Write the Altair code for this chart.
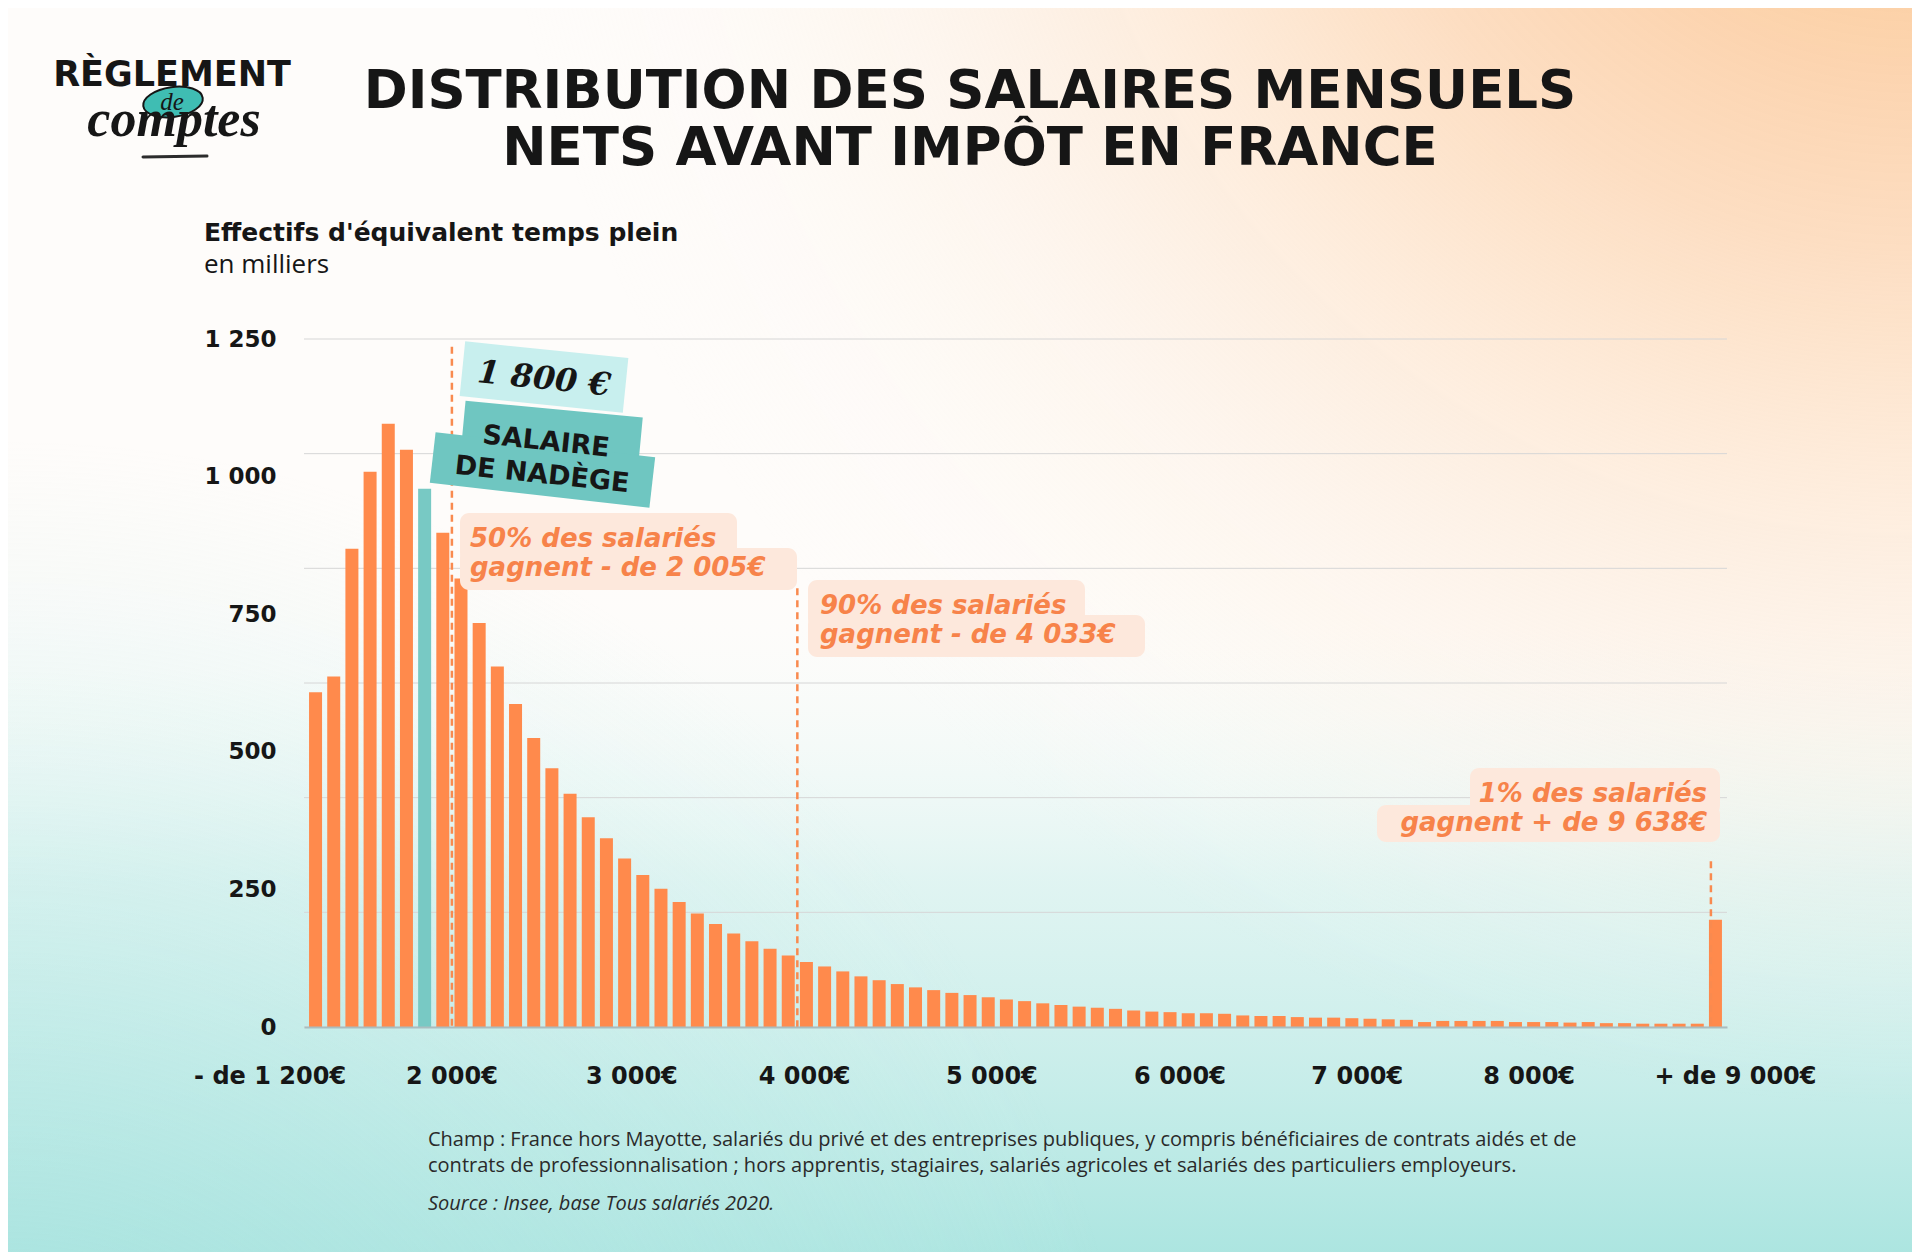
import altair as alt
import pandas as pd

# ---------------- data ----------------
bin_start = list(range(1200, 9000, 100))  # 78 tranches de 100 €, la dernière = "+ de 9 000€"
effectifs = [608, 637, 869, 1009, 1096, 1049, 978, 898, 815, 734,
             655, 587, 525, 470, 424, 381, 343, 306, 276, 251,
             227, 206, 187, 170, 156, 142, 130, 118, 110, 101,
             92, 85, 78, 72, 67, 62, 58, 54, 50, 47,
             43, 40, 37, 35, 33, 30, 28, 27, 25, 25,
             24, 21, 20, 20, 18, 17, 17, 16, 15, 14,
             13, 9, 11, 11, 11, 11, 9, 9, 9, 8,
             9, 7, 7, 6, 6, 6, 6, 195]
NADEGE_BIN = 1800

x_tick_labels = ["- de 1 200€", "2 000€", "3 000€", "4 000€", "5 000€",
                 "6 000€", "7 000€", "8 000€", "+  de 9 000€"]
x_tick_pos = [1000, 2000, 2990, 3940, 4970, 6005, 6980, 7925, 9060]

y_tick_values = [0, 250, 500, 750, 1000, 1250]

marker_x = [2000, 3900, 8925]       # lignes pointillées (médiane, D9, C99)
marker_top = [1236, 797, 301]

TITLE_1 = "DISTRIBUTION DES SALAIRES MENSUELS"
TITLE_2 = "NETS AVANT IMPÔT EN FRANCE"
Y_TITLE = "Effectifs d'équivalent temps plein"
Y_SUB = "en milliers"
NOTE_1 = ("Champ : France hors Mayotte, salariés du privé et des entreprises publiques, "
          "y compris bénéficiaires de contrats aidés et de")
NOTE_2 = ("contrats de professionnalisation ; hors apprentis, stagiaires, salariés agricoles "
          "et salariés des particuliers employeurs.")
SOURCE = "Source : Insee, base Tous salariés 2020."

# ---------------- layout ----------------
ORANGE = "#ff8a4c"
TEAL = "#78c9c4"
TXT_OR = "#f7834a"
DARK = "#161616"
BOX = "#fde8dc"
BOLD_FONT = "DejaVu Sans"

PLOT_L, PLOT_T = 304, 339
W, H = 1423, 688
CANVAS_W, CANVAS_H = 1904, 1244


def vx(X):
    return X - PLOT_L


def vy(Y):
    return Y - PLOT_T


one = pd.DataFrame({"k": [0]})

bars_df = pd.DataFrame({
    "start": bin_start,
    "effectifs": effectifs,
})
bars_df["centre"] = bars_df["start"] + 50
bars_df["nadege"] = bars_df["start"] == NADEGE_BIN

# bars flush with the ends of the gridlines, as in the original
xscale = alt.Scale(domain=[1214, 8986], nice=False, zero=False)
yscale = alt.Scale(domain=[0, 1250], nice=False, zero=True)


def bg(color):
    return alt.Chart(one).mark_rect(color=color).encode(
        x=alt.value(vx(8)), x2=alt.value(vx(8 + CANVAS_W)),
        y=alt.value(vy(8)), y2=alt.value(vy(8 + CANVAS_H)))


def box(x1, x2, y1, y2, color=BOX, r=9):
    return alt.Chart(one).mark_rect(color=color, cornerRadius=r).encode(
        x=alt.value(vx(x1)), x2=alt.value(vx(x2)),
        y=alt.value(vy(y1)), y2=alt.value(vy(y2)))


def rbox(cx, cy, w, h, angle, color):
    r = h / w
    path = f"M-1,{-r}L1,{-r}L1,{r}L-1,{r}Z"
    return alt.Chart(one).mark_point(shape=path, size=w * w, angle=angle,
                                     filled=True, color=color, opacity=1).encode(
        x=alt.value(vx(cx)), y=alt.value(vy(cy)))


def txt(text, X, Y, size, font, weight="normal", style="normal", align="left",
        baseline="alphabetic", color=DARK, angle=0):
    return alt.Chart(one).mark_text(text=text, font=font, fontSize=size, fontWeight=weight,
                                    fontStyle=style, align=align, baseline=baseline,
                                    color=color, angle=angle).encode(
        x=alt.value(vx(X)), y=alt.value(vy(Y)))


layers = []

# background gradients
layers.append(bg("#fefcfa"))
layers.append(bg({"gradient": "linear", "x1": 0, "y1": 1, "x2": 0, "y2": 0,
                  "stops": [{"offset": 0, "color": "rgba(168,228,223,0.95)"},
                            {"offset": 0.3, "color": "rgba(200,238,235,0.55)"},
                            {"offset": 0.55, "color": "rgba(255,255,255,0)"}]}))
layers.append(bg({"gradient": "radial", "x1": 0, "y1": 1, "r1": 0, "x2": 0, "y2": 1, "r2": 0.6,
                  "stops": [{"offset": 0, "color": "rgba(160,224,220,0.8)"},
                            {"offset": 1, "color": "rgba(200,238,235,0)"}]}))
layers.append(bg({"gradient": "radial", "x1": 1, "y1": 0, "r1": 0, "x2": 1, "y2": 0, "r2": 0.75,
                  "stops": [{"offset": 0, "color": "rgba(251,188,128,1)"},
                            {"offset": 0.4, "color": "rgba(252,212,175,0.75)"},
                            {"offset": 1, "color": "rgba(255,250,245,0)"}]}))

# gridlines (7 lines, 1250/6 apart as in the original)
layers.append(
    alt.Chart(alt.sequence(0, 7, as_="k")).transform_calculate(v="datum.k * 1250 / 6")
    .mark_rule(color="#d6d6d6", strokeWidth=1)
    .encode(y=alt.Y("v:Q", scale=yscale, axis=None), x=alt.value(0), x2=alt.value(W))
)

# bars
layers.append(
    alt.Chart(bars_df).mark_bar(size=13).encode(
        x=alt.X("centre:Q", scale=xscale,
                axis=alt.Axis(orient="bottom", labels=False, ticks=False, grid=False, domain=True,
                              domainColor="#a9bdbf", domainWidth=2, title=None, zindex=1)),
        y=alt.Y("effectifs:Q", scale=yscale,
                axis=alt.Axis(orient="left", values=y_tick_values, grid=False, ticks=False,
                              domain=False, title=None, labelPadding=28, labelFont=BOLD_FONT,
                              labelFontWeight="bold", labelFontSize=23, labelColor=DARK,
                              labelExpr="replace(format(datum.value, ','), ',', ' ')",
                              zindex=1)),
        color=alt.condition(alt.datum.nadege, alt.value(TEAL), alt.value(ORANGE)),
    )
)

# dashed markers
mk_df = pd.DataFrame({"x": marker_x, "top": marker_top})
layers.append(
    alt.Chart(mk_df).mark_rule(color="#f98a4f", strokeWidth=2.5, strokeDash=[7, 5]).encode(
        x=alt.X("x:Q", scale=xscale, axis=None),
        y=alt.Y("top:Q", scale=yscale, axis=None),
        y2=alt.datum(0),
    )
)

# x tick labels
xt_df = pd.DataFrame({"pos": x_tick_pos, "lab": x_tick_labels})
layers.append(
    alt.Chart(xt_df).mark_text(font=BOLD_FONT, fontWeight="bold", fontSize=24,
                               color=DARK, baseline="middle").encode(
        x=alt.X("pos:Q", scale=xscale, axis=None),
        y=alt.value(vy(1077)),
        text="lab:N",
    )
)

# Nadège labels
layers.append(rbox(544, 377, 164, 55, 5.8, "#c8efee"))
layers.append(rbox(552, 432, 178, 46, 5.4, "#6fc6c1"))
layers.append(rbox(542.5, 470, 221, 51, 6.5, "#6fc6c1"))
layers.append(txt("1 800 €", 544, 379, 32, "DejaVu Serif", "bold", "italic", "center", "middle", DARK, 6))
layers.append(txt("SALAIRE", 546, 442, 27, BOLD_FONT, "bold", "normal", "center", "middle", DARK, 6))
layers.append(txt("DE NADÈGE", 542, 475, 27, BOLD_FONT, "bold", "normal", "center", "middle", DARK, 6))

# percentile annotations
ANN_FONT = "DejaVu Sans"
ANN_SIZE = 26
layers += [box(460, 737, 513, 562), box(460, 797, 548, 590)]
layers.append(txt("50% des salariés", 470, 547, ANN_SIZE, ANN_FONT, "bold", "italic", color=TXT_OR))
layers.append(txt("gagnent - de 2 005€", 470, 576, ANN_SIZE, ANN_FONT, "bold", "italic", color=TXT_OR))

layers += [box(808, 1085, 580, 628), box(808, 1145, 615, 657)]
layers.append(txt("90% des salariés", 820, 614, ANN_SIZE, ANN_FONT, "bold", "italic", color=TXT_OR))
layers.append(txt("gagnent - de 4 033€", 820, 643, ANN_SIZE, ANN_FONT, "bold", "italic", color=TXT_OR))

layers += [box(1470, 1720, 768, 815), box(1377, 1720, 805, 842)]
layers.append(txt("1% des salariés", 1707, 802, ANN_SIZE, ANN_FONT, "bold", "italic", "right", color=TXT_OR))
layers.append(txt("gagnent + de 9 638€", 1707, 831, ANN_SIZE, ANN_FONT, "bold", "italic", "right", color=TXT_OR))

# titles
layers.append(txt(TITLE_1, 970, 108, 53, BOLD_FONT, "bold", "normal", "center"))
layers.append(txt(TITLE_2, 970, 165, 53, BOLD_FONT, "bold", "normal", "center"))
layers.append(txt(Y_TITLE, 204, 241, 25, BOLD_FONT, "bold"))
layers.append(txt(Y_SUB, 204, 273, 26, "Open Sans", "normal"))

# footnotes
NOTE_COL = "#2a2a2a"
layers.append(txt(NOTE_1, 428, 1140, 20, "Open Sans", "normal", baseline="middle", color=NOTE_COL))
layers.append(txt(NOTE_2, 428, 1166, 20, "Open Sans", "normal", baseline="middle", color=NOTE_COL))
layers.append(txt(SOURCE, 428, 1204, 20, "Open Sans", "normal", "italic", baseline="middle", color=NOTE_COL))

# logo
ell = "M-1,0A1,0.5 0 1,1 1,0A1,0.5 0 1,1 -1,0Z"
layers.append(alt.Chart(one).mark_point(shape=ell, size=60 * 60, angle=352, filled=True,
                                        color="#3fbdb3", stroke="#151515", strokeWidth=2,
                                        opacity=1).encode(x=alt.value(vx(173)), y=alt.value(vy(102))))
layers.append(txt("RÈGLEMENT", 172, 86, 35, BOLD_FONT, "bold", "normal", "center"))
layers.append(txt("de", 172, 102, 25, "Liberation Serif", "normal", "italic", "center", "middle"))
layers.append(txt("comptes", 174, 136, 52, "Liberation Serif", "bold", "italic", "center"))
layers.append(alt.Chart(one).mark_rule(color="#2c2c2c", strokeWidth=3, strokeCap="round").encode(
    x=alt.value(vx(143)), x2=alt.value(vx(207)), y=alt.value(vy(157)), y2=alt.value(vy(156))))

chart = alt.layer(*layers).resolve_axis(x="independent", y="independent").properties(
    width=W, height=H,
    padding={"left": PLOT_L - 8, "top": PLOT_T - 8,
             "right": CANVAS_W - (PLOT_L - 8) - W, "bottom": CANVAS_H - (PLOT_T - 8) - H},
    autosize=alt.AutoSizeParams(type="none"),
    background="#ffffff",
).configure_view(stroke=None)

chart.save("out.html", embed_options={"renderer": "svg", "actions": False})
